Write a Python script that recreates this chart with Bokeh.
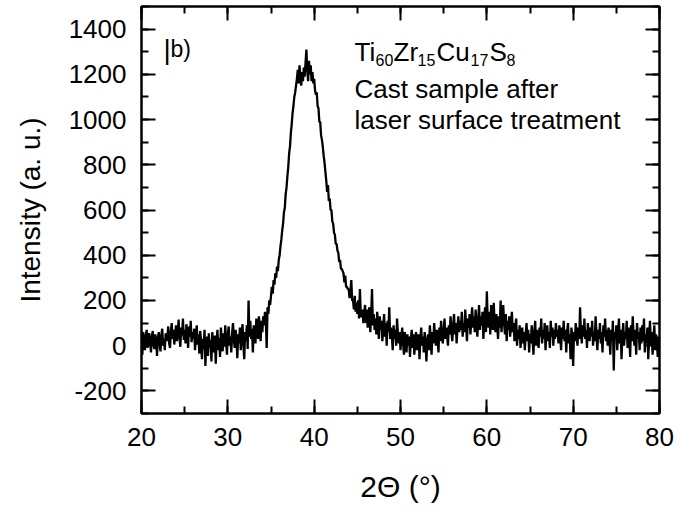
from bokeh.plotting import figure
from bokeh.models import (LinearAxis, SingleIntervalTicker, Range1d, Label,
                          CustomJSTickFormatter, ColumnDataSource)
from bokeh.embed import file_html
from bokeh.resources import INLINE

# ---- data ----
theta_start = 20.0
theta_step = 0.1

intensity = [
    30, -40, 60, 10, -20, 45, 70, -10, 25, 55,          # 20
    15, -30, 40, 65, 5, -15, 50, 20, -45, 35,           # 21
    60, 10, -25, 45, 75, 0, 30, -20, 55, 20,            # 22
    40, 85, 10, -10, 60, 100, 30, 70, 5, 50,            # 23
    90, 20, 60, 115, 35, -5, 80, 45, 120, 25,           # 24
    70, 10, 95, 55, -10, 85, 40, 110, 15, 60,           # 25
    30, 75, -20, 45, 90, 5, 50, -35, 65, 20,            # 26
    -60, 30, -15, 70, -90, 10, 40, -45, 55, -10,        # 27
    25, -70, 60, 0, -30, 45, -80, 20, 70, -20,          # 28
    35, -50, 80, 10, -25, 55, -5, 90, 15, -40,          # 29
    50, 85, 0, 40, -30, 60, 100, 20, -10, 70,           # 30
    30, -55, 50, 10, 80, -20, 40, 95, 5, -60,           # 31
    60, 20, 90, -15, 200, 40, 110, 30, 75, -30,         # 32
    90, 40, 10, 120, 70, 30, 130, 80, 20, 110,          # 33
    60, 130, 90, 150, 110, -10, 170, 140, 200, 180,     # 34
    220, 260, 230, 290, 270, 320, 300, 350, 330, 380,   # 35
    400, 440, 470, 510, 540, 590, 610, 670, 700, 750,   # 36
    790, 850, 880, 940, 980, 1030, 1060, 1100, 1120, 1150,  # 37
    1180, 1220, 1160, 1240, 1190, 1150, 1210, 1170, 1230, 1190,  # 38
    1250, 1310, 1220, 1170, 1260, 1200, 1240, 1170, 1210, 1160,  # 39
    1180, 1130, 1110, 1120, 1060, 1050, 990, 990, 930, 910,      # 40
    880, 840, 810, 770, 730, 680, 710, 640, 650, 600,   # 41
    600, 550, 540, 500, 490, 450, 450, 420, 410, 370,   # 42
    380, 340, 340, 330, 320, 280, 310, 260, 260, 250,   # 43
    250, 210, 240, 290, 200, 200, 160, 220, 150, 190,   # 44
    140, 200, 120, 250, 130, 130, 160, 100, 150, 180,   # 45
    100, 160, 80, 140, 170, 60, 130, 250, 90, 140,      # 46
    70, 120, 50, 150, 90, 30, 130, 70, 110, 20,         # 47
    80, 140, 40, 100, 0, 110, 60, 170, 30, 80,          # 48
    40, -20, 90, 30, 70, 0, 120, 50, 10, 60,            # 49
    -20, 40, 80, 10, -40, 60, 20, -30, 50, 0,           # 50
    40, -50, 30, 70, -10, 50, -40, 20, 60, -20,         # 51
    10, 50, -60, 30, 80, 0, 40, -30, 60, 20,            # 52
    -70, 20, 50, -20, 90, 30, -40, 60, 10, 100,         # 53
    40, 0, 70, 30, -30, 80, 20, 110, 50, 10,            # 54
    70, 120, 30, 80, 40, 0, 90, 50, 130, 60,            # 55
    20, 90, 140, 50, 100, 10, 80, 130, 60, 110,         # 56
    70, 150, 40, 100, 60, 160, 90, 20, 120, 80,         # 57
    140, 50, 110, 170, 80, 130, 60, 160, 100, 40,       # 58
    110, 180, 70, 130, 90, 150, 30, 120, 170, 60,       # 59
    240, 110, 80, 150, 50, 180, 120, 70, 190, 100,      # 60
    60, 140, 90, 30, 130, 80, 200, 60, 120, 180,        # 61
    100, 50, 140, 20, 110, 70, 130, 40, 90, 150,        # 62
    60, 100, 20, 80, 120, 0, 70, 30, 90, -10,           # 63
    40, 80, 10, 60, -20, 50, 100, 20, 70, -30,          # 64
    50, 10, 90, 30, -40, 60, 110, 0, 70, 30,            # 65
    -10, 80, 40, 120, 10, 70, 30, 100, -20, 60,         # 66
    90, 20, 60, -10, 110, 40, 80, 0, 70, 30,            # 67
    100, 40, 70, 10, 90, 50, -20, 80, 30, 110,          # 68
    20, 70, -30, 60, 100, 10, 50, -60, 80, 30,          # 69
    -90, 60, 20, 100, 40, 0, 80, 30, 170, 60,           # 70
    10, 90, 40, 120, 30, 70, -10, 100, 50, 20,          # 71
    80, 40, 110, 0, 60, 20, 130, 50, -20, 70,           # 72
    30, 100, 10, 60, -30, 90, 40, 120, 20, 70,          # 73
    0, 80, 40, -40, 70, 20, 110, -110, 60, 30,          # 74
    90, -20, 50, 120, 10, 70, -60, 40, 100, 0,          # 75
    60, 30, 110, -10, 80, 40, -50, 90, 20, 130,         # 76
    40, 0, 70, -40, 100, 30, 60, -20, 80, 10,           # 77
    90, 20, 120, -30, 50, 10, 80, -60, 40, 110,         # 78
    0, 60, -40, 30, 90, -20, 50, 10, -50, 40,           # 79
    20,                                                 # 80
]
theta = [round(theta_start + theta_step * i, 2) for i in range(len(intensity))]

x_range = (20, 80)
y_range = (-300, 1500)

FONT = "Liberation Sans"

p = figure(width=689, height=517, output_backend="svg", toolbar_location=None,
           x_range=Range1d(*x_range), y_range=Range1d(*y_range),
           x_axis_type=None, y_axis_type=None,
           min_border_left=141, min_border_right=30,
           min_border_top=6, min_border_bottom=104)
p.background_fill_color = "white"
p.border_fill_color = "white"
p.outline_line_color = "black"
p.outline_line_width = 2
p.xgrid.visible = False
p.ygrid.visible = False

plain = CustomJSTickFormatter(code="return tick.toString()")


def style_axis(ax, show_labels):
    ax.axis_line_width = 2
    ax.axis_line_color = "black"
    ax.major_tick_in = 14
    ax.major_tick_out = 0
    ax.minor_tick_in = 7
    ax.minor_tick_out = 0
    ax.major_tick_line_width = 2
    ax.minor_tick_line_width = 2
    ax.major_tick_line_color = "black"
    ax.minor_tick_line_color = "black"
    if show_labels:
        ax.formatter = plain
        ax.major_label_text_font = FONT
        ax.major_label_text_font_size = "26px"
        ax.major_label_text_color = "black"
        ax.axis_label_text_font = FONT
        ax.axis_label_text_font_style = "normal"
        ax.axis_label_text_color = "black"
    else:
        ax.formatter = CustomJSTickFormatter(code="return ''")
        ax.major_label_text_font_size = "1px"
        ax.major_label_standoff = 0


xt = SingleIntervalTicker(interval=10, num_minor_ticks=2)
yt = SingleIntervalTicker(interval=200, num_minor_ticks=2)

xb = LinearAxis(ticker=xt, axis_label="2Θ (°)")
style_axis(xb, True)
xb.axis_label_text_font_size = "30px"
xb.major_label_standoff = 14
xb.axis_label_standoff = 21
p.add_layout(xb, "below")

yl = LinearAxis(ticker=yt, axis_label="Intensity (a. u.)")
style_axis(yl, True)
yl.axis_label_text_font_size = "28px"
yl.major_label_standoff = 15
yl.axis_label_standoff = 20
p.add_layout(yl, "left")

xa = LinearAxis(ticker=xt)
style_axis(xa, False)
p.add_layout(xa, "above")

yr = LinearAxis(ticker=yt)
style_axis(yr, False)
p.add_layout(yr, "right")

src = ColumnDataSource(data=dict(theta=theta, intensity=intensity))
p.line("theta", "intensity", source=src, line_color="black", line_width=2.3)

# ---- annotations ----
def add_label(text, x, y, size):
    p.add_layout(Label(x=x, y=y, text=text, text_font=FONT,
                       text_font_size=size, text_color="black",
                       text_align="left", text_baseline="alphabetic"))

add_label("|", 22.55, 1310, "28px")
add_label("b)", 23.36, 1314, "23px")

add_label("Ti", 44.67, 1298, "26px")
add_label("60", 47.11, 1262, "16px")
add_label("Zr", 49.19, 1298, "26px")
add_label("15", 51.97, 1262, "16px")
add_label("Cu", 54.17, 1298, "26px")
add_label("17", 58.11, 1262, "16px")
add_label("S", 60.31, 1298, "26px")
add_label("8", 62.28, 1262, "16px")
add_label("Cast sample after", 44.67, 1137, "26px")
add_label("laser surface treatment", 44.67, 1000, "26px")

open("out.html", "w").write(file_html(p, INLINE))
